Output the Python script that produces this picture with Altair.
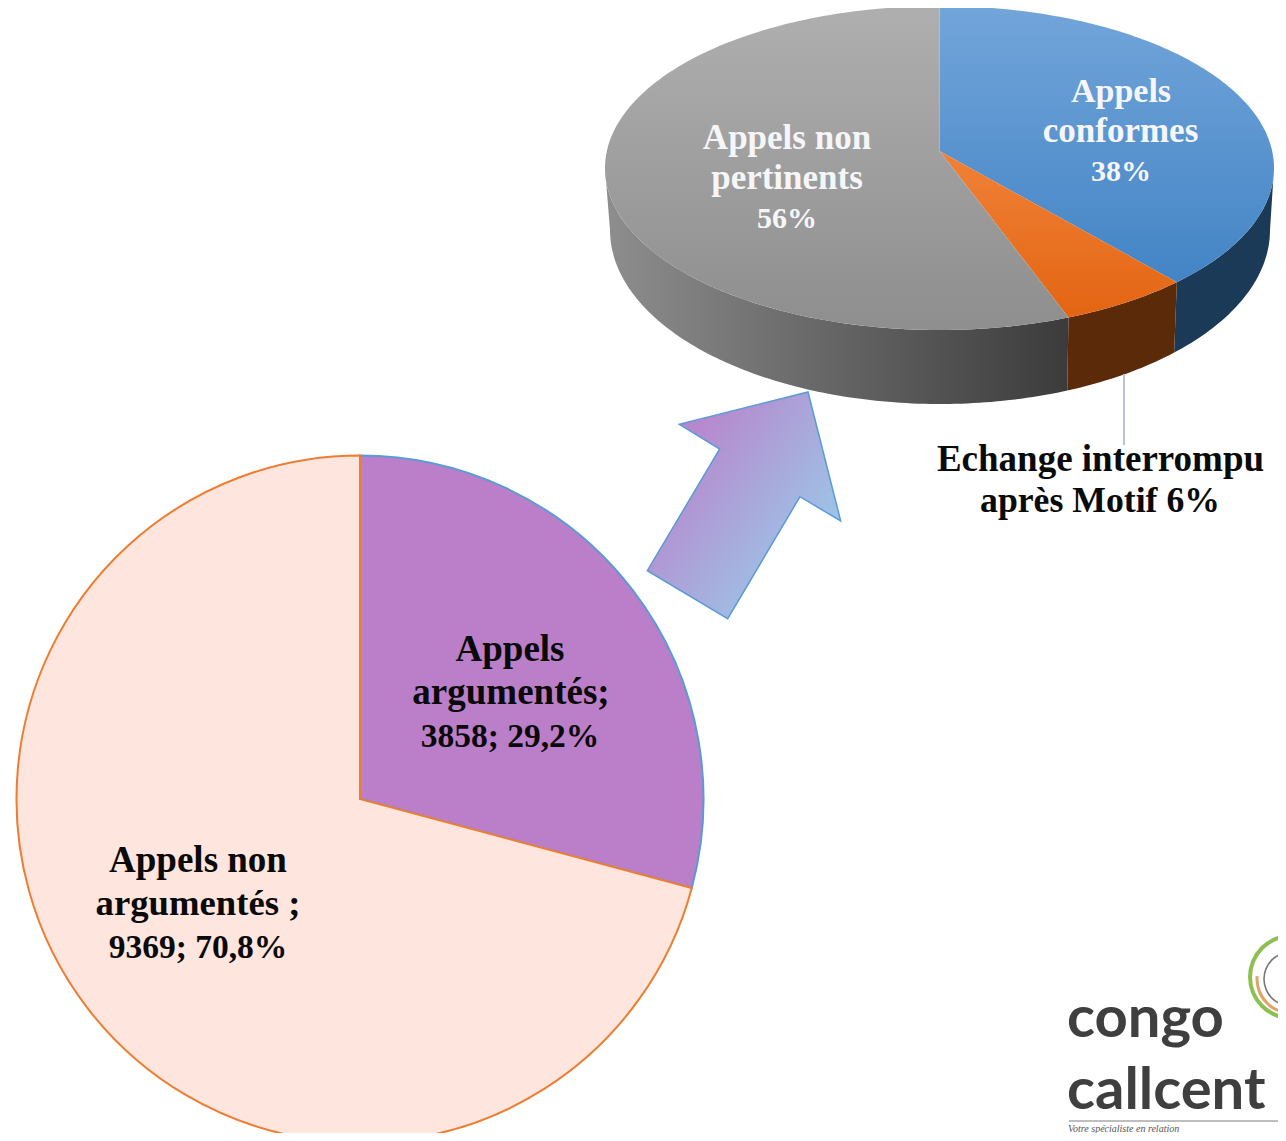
import math
import altair as alt

# ---- data ----
flat_labels = ["Appels argumentés", "Appels non argumentés"]
flat_values = [3858, 9369]
flat_order = [0, 1]
flat_fill = ["#bb7fca", "#fee5dd"]
flat_stroke = ["#5b9bd5", "#ed7d31"]

tilt_labels = ["Appels conformes", "Echange interrompu après Motif", "Appels non pertinents"]
tilt_values = [38, 6, 56]

FONT = "Liberation Serif"
M = 8  # page margin


def px(v):
    return alt.value(v - M)


# ---- tilted pie geometry, derived from tilt_values ----
A = -0.05
TOP = dict(cx=939.5, cy=168, rx=334.5, ry=162)
BOT = dict(cx=940, cy=230, rx=330, ry=174)
APEX = (939.5, 151)


def rim(deg, cx, cy, rx, ry):
    t = math.radians(deg)
    u, v = math.sin(t), -math.cos(t)
    d = 1 + A * v
    return (cx + rx * u * math.sqrt(1 - A * A) / d - M, cy + ry * (v + A) / d - M)


def arc_pts(a, b, e):
    n = max(2, int(abs(b - a)) + 1)
    return [rim(a + (b - a) * i / (n - 1), **e) for i in range(n)]


def poly(pts):
    ring = [list(p) for p in pts] + [list(pts[0])]
    return {"type": "Feature", "properties": {}, "geometry": {"type": "Polygon", "coordinates": [ring]}}


def shape(pts, fill, **kw):
    return alt.Chart(alt.Data(values=[poly(pts)])).mark_geoshape(fill=fill, **kw).project(
        type="identity", scale=1, translate=[0, 0])


def grad(c1, c2, x1=0, y1=0, x2=0, y2=1):
    stops = [{"color": c1, "offset": 0}, {"color": c2, "offset": 1}]
    return {"gradient": "linear", "x1": x1, "y1": y1, "x2": x2, "y2": y2, "stops": stops}


cum = [0]
for v in tilt_values:
    cum.append(cum[-1] + v)
ang = [c * 3.6 for c in cum]
WALL_R = 92.9
WALL_L = 360 - 92.9

top_fills = [grad("#72a5da", "#4384c5"), grad("#f08138", "#e36512"), grad("#afafaf", "#8e8e8e")]
wall_fills = ["#1b3a57", "#5a2a09", grad("#8e8e8e", "#3b3b3b", 0, 0, 1, 0)]
wall_span = [(WALL_R, ang[1]), (ang[1], ang[2]), (ang[2], WALL_L)]

layers = []
for (a, b), f in zip(wall_span, wall_fills):
    layers.append(shape(arc_pts(a, b, TOP) + arc_pts(b, a, BOT), f))
apex = (APEX[0] - M, APEX[1] - M)
for i, f in enumerate(top_fills):
    layers.append(shape([apex] + arc_pts(ang[i], ang[i + 1], TOP), f))

# leader line
layers.append(alt.Chart(alt.Data(values=[{"a": 0}])).mark_rule(color="#b9c5d3", strokeWidth=2).encode(
    x=px(1124), y=px(374), y2=px(445)))

# arrow
arrow = [(808, 392), (840.7, 521), (800, 496.7), (727.7, 618.7), (647.3, 570.7), (719.7, 449), (679.3, 424.3)]
layers.append(shape([(x - M, y - M) for x, y in arrow],
                    grad("#bb7fca", "#9dc3e6", 0.12, 0.12, 0.82, 0.72),
                    stroke="#5b9bd5", strokeWidth=1.5))

# flat pie
flat = alt.Chart(alt.Data(values=[
    {"label": l, "value": v, "ord": o} for l, v, o in zip(flat_labels, flat_values, flat_order)
])).mark_arc(outerRadius=343.5, strokeWidth=2).encode(
    theta=alt.Theta("value:Q", stack=True),
    order=alt.Order("ord:Q"),
    fill=alt.Fill("label:N", scale=alt.Scale(domain=flat_labels, range=flat_fill), legend=None),
    stroke=alt.Stroke("label:N", scale=alt.Scale(domain=flat_labels, range=flat_stroke), legend=None),
    x=px(360),
    y=px(799),
)
layers.append(flat)


def label(text, x, y, size, color="#0a0a0a"):
    return alt.Chart(alt.Data(values=[{"a": 0}])).mark_text(
        font=FONT, fontSize=size, fontWeight="bold", color=color, align="center",
        baseline="alphabetic").encode(text=alt.value(text), x=px(x), y=px(y))


WHITE = "#f6f6f8"
layers += [
    label("Appels", 510, 661, 37),
    label("argumentés;", 511, 704, 37),
    label("3858; 29,2%", 510, 747, 33.5),
    label("Appels non", 198, 872, 37),
    label("argumentés ;", 198, 915, 36.7),
    label("9369; 70,8%", 198, 958, 33.5),
    label("Appels", 1121, 102, 34, WHITE),
    label("conformes", 1120.5, 142, 35, WHITE),
    label("38%", 1121, 181, 30, WHITE),
    label("Appels non", 787, 149, 35, WHITE),
    label("pertinents", 787, 189, 35, WHITE),
    label("56%", 787, 228, 30, WHITE),
    label("Echange interrompu", 1100.5, 471, 37),
    label("après Motif 6%", 1100, 512, 35.7),
]

# logo
GREY = "#3f3f3f"


def logo_text(t, x, y, size, font="Lato", weight="bold", style="normal", color=GREY):
    return alt.Chart(alt.Data(values=[{"a": 0}])).mark_text(
        font=font, fontSize=size, fontWeight=weight, fontStyle=style, color=color, align="left",
        baseline="alphabetic").encode(text=alt.value(t), x=px(x), y=px(y))


layers += [
    logo_text("congo", 1067, 1037, 58),
    logo_text("callcent", 1067, 1109, 58),
    logo_text("Votre spécialiste en relation", 1068, 1132, 10, font="Liberation Serif", weight="normal",
              style="italic", color="#555555"),
]
layers.append(alt.Chart(alt.Data(values=[{"a": 0}])).mark_rule(color="#a8a8a8", strokeWidth=1.5).encode(
    x=px(1069), x2=px(1278), y=px(1121)))


def ring(cx, cy, r, w, color, a=0.0, b=2 * math.pi):
    return alt.Chart(alt.Data(values=[{"a": 0}])).mark_arc(
        innerRadius=r - w / 2, outerRadius=r + w / 2, theta=a, theta2=b, fill=color).encode(
        x=px(cx), y=px(cy))


layers += [
    ring(1291, 977, 41, 4, "#8dc14f"),
    ring(1291, 979, 27, 1.6, "#777777"),
    ring(1291, 979, 34, 3, "#dfa36a", math.radians(175), math.radians(275)),
]

chart = alt.layer(*layers).resolve_scale(fill="independent", stroke="independent", theta="independent").properties(
    width=1270, height=1125, padding=0, autosize=alt.AutoSizeParams(type="none"), background="#ffffff"
).configure_view(stroke=None)

chart.save("out.html", embed_options={"renderer": "svg", "actions": False})
